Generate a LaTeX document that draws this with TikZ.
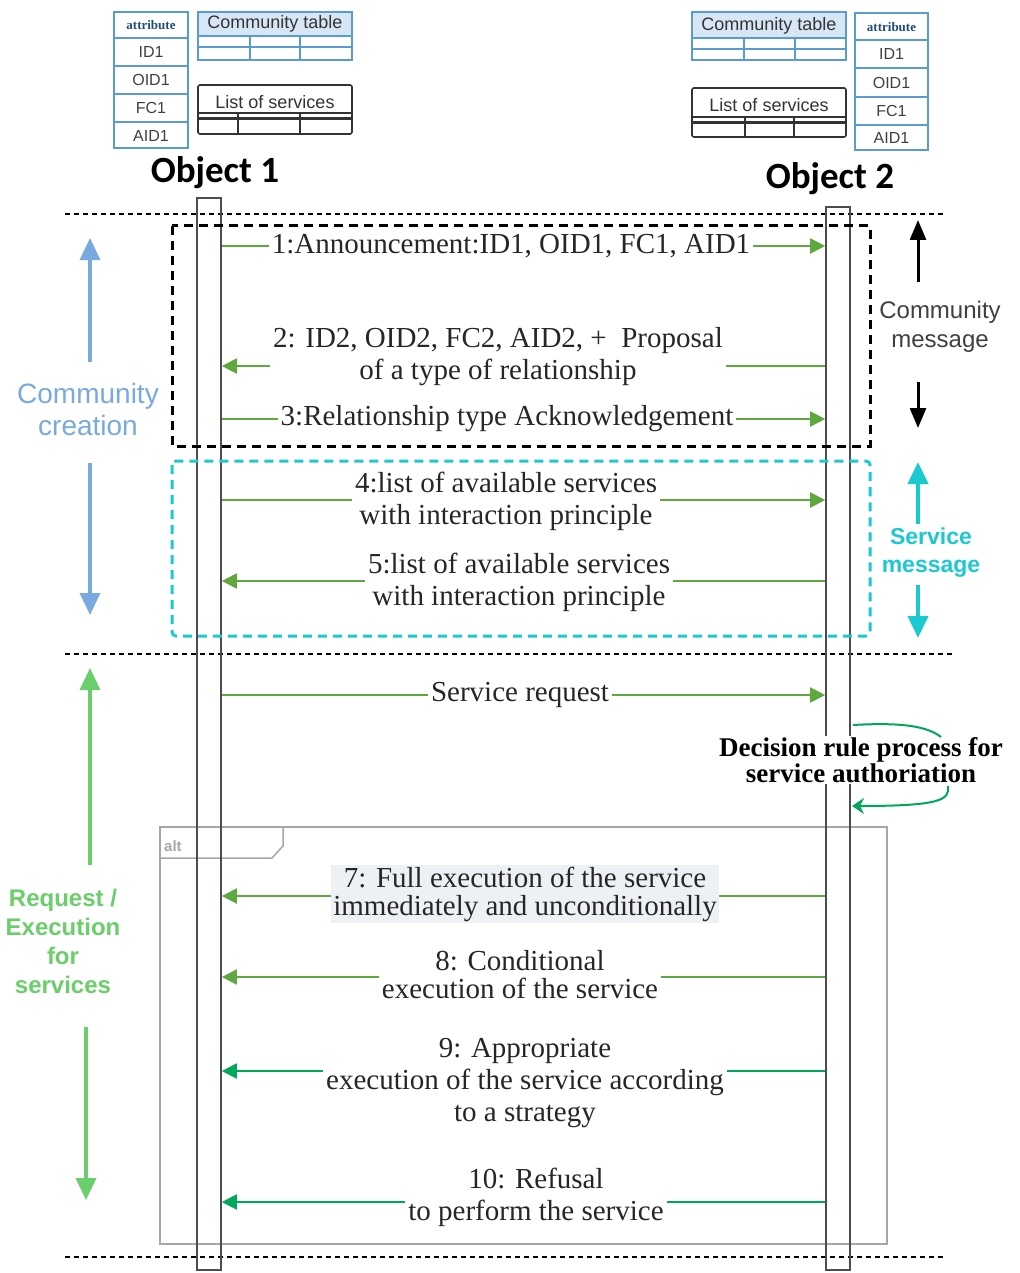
\documentclass[tikz,border=0pt]{standalone}
\usepackage{fontspec}
\setmainfont{Liberation Serif}
\setsansfont{Liberation Sans}
\newfontfamily\calib{Carlito}
\usetikzlibrary{arrows.meta,calc}
\pgfdeclarelayer{bg}
\pgfsetlayers{bg,main}
\definecolor{tblue}{HTML}{5B9BD5}
\definecolor{thead}{HTML}{D6E6F5}
\definecolor{msgg}{HTML}{5FA83F}
\definecolor{tealg}{HTML}{00A85A}
\definecolor{cyanb}{HTML}{1CC9D1}
\definecolor{lblue}{HTML}{78AADF}
\definecolor{lgreen}{HTML}{6ACF6A}
\definecolor{altgray}{HTML}{A6A6A6}
\definecolor{hdblue}{HTML}{1F4E79}
\definecolor{m7bg}{HTML}{EDF1F6}
\tikzset{
  tbl/.style={draw=tblue, line width=1.6pt},
  lst/.style={draw=black!80, line width=1.6pt},
  cell/.style={font=\sffamily\fontsize{16}{16}\selectfont, text=black!75, inner sep=0pt},
  attrh/.style={font=\bfseries\fontsize{13}{13}\selectfont, text=hdblue, inner sep=0pt},
  ttl/.style={font=\sffamily\fontsize{18}{18}\selectfont, text=black!80, inner sep=0pt},
  objlbl/.style={font=\calib\bfseries\fontsize{37}{37}\selectfont, inner sep=0pt},
  lifeline/.style={draw=black!70, line width=1.6pt, minimum width=24pt, inner sep=0pt},
  sepline/.style={draw=black, line width=1.4pt, dash pattern=on 5pt off 4pt},
  msgtxt/.style={font=\fontsize{29}{32}\selectfont, fill=white, inner sep=3pt, align=center, text=black!85},
  msg/.style={draw=msgg, line width=2pt, -{Triangle[width=15pt,length=15pt]}},
  msgt/.style={draw=tealg, line width=2pt, -{Triangle[width=15pt,length=15pt]}},
  side/.style={font=\sffamily\fontsize{28}{32}\selectfont, align=center, inner sep=0pt}
}
\begin{document}
\begin{tikzpicture}[x=1pt,y=-1pt]
\useasboundingbox (0,0) rectangle (1019,1273);
\begin{pgfonlayer}{bg}
\fill[white] (0,0) rectangle (1019,1273);
\end{pgfonlayer}

% ---------- left tables ----------
\draw[tbl] (114,12) rectangle (188,148);
\foreach \yy in {38,66,94,122} \draw[tbl, line width=1.3pt] (114,\yy) -- (188,\yy);
\node[attrh] (a1h) at (151,25) {attribute};
\node[cell] (a1id) at (151,52) {ID1};
\node[cell] (a1oid) at (151,80) {OID1};
\node[cell] (a1fc) at (151,108) {FC1};
\node[cell] (a1aid) at (151,136) {AID1};

\fill[thead] (198,12) rectangle (352,36);
\draw[tbl] (198,12) rectangle (352,60);
\draw[tbl] (198,36) -- (352,36);
\draw[tbl, line width=2.6pt] (198,47) -- (352,47);
\draw[tbl, line width=1.3pt] (250,36) -- (250,60) (300,36) -- (300,60);
\node[ttl] (ct1) at (275,24) {Community table};

\draw[lst, rounded corners=2pt] (198,85) rectangle (352,134);
\draw[lst] (198,113) -- (352,113);
\draw[lst, line width=3pt] (198,119) -- (352,119);
\draw[lst, line width=1.3pt] (238,113) -- (238,134) (300,113) -- (300,134);
\node[ttl] (ls1) at (275,102) {List of services};

% ---------- right tables ----------
\fill[thead] (692,12) rectangle (846,38);
\draw[tbl] (692,12) rectangle (846,60);
\draw[tbl] (692,38) -- (846,38);
\draw[tbl, line width=2.6pt] (692,49) -- (846,49);
\draw[tbl, line width=1.3pt] (744,38) -- (744,60) (795,38) -- (795,60);
\node[ttl] (ct2) at (769,26) {Community table};

\draw[lst, rounded corners=2pt] (692,88) rectangle (846,137);
\draw[lst] (692,117) -- (846,117);
\draw[lst, line width=3pt] (692,123) -- (846,123);
\draw[lst, line width=1.3pt] (745,117) -- (745,137) (794,117) -- (794,137);
\node[ttl] (ls2) at (769,105) {List of services};

\draw[tbl] (855,13) rectangle (928,150);
\foreach \yy in {40,68,97,125} \draw[tbl, line width=1.3pt] (855,\yy) -- (928,\yy);
\node[attrh] (a2h) at (891.5,27) {attribute};
\node[cell] (a2id) at (891.5,54) {ID1};
\node[cell] (a2oid) at (891.5,83) {OID1};
\node[cell] (a2fc) at (891.5,111) {FC1};
\node[cell] (a2aid) at (891.5,138) {AID1};

% ---------- objects ----------
\node[objlbl] (o1) at (215,173) {Object 1};
\node[objlbl] (o2) at (830,179) {Object 2};

% ---------- separators ----------
\coordinate (s1a) at (65,214); \coordinate (s1b) at (945,214);
\coordinate (s2a) at (65,654); \coordinate (s2b) at (955,654);
\coordinate (s3a) at (65,1257); \coordinate (s3b) at (945,1257);
\draw[sepline] (s1a) -- (s1b);
\draw[sepline] (s2a) -- (s2b);
\draw[sepline] (s3a) -- (s3b);

% ---------- alt frame ----------
\draw[altgray, line width=1.5pt] (160,827) rectangle (887,1244);
\draw[altgray, line width=1.5pt, fill=white] (160,827) -- (283,827) -- (283,846) -- (272,858) -- (160,858) -- cycle;
\node[font=\sffamily\bfseries\fontsize{15}{15}\selectfont, text=altgray, anchor=west, inner sep=0pt] (alt) at (164,846) {alt};

% ---------- lifelines ----------
\node[lifeline, minimum height=1072pt] (L1) at (209,734) {};
\node[lifeline, minimum height=1063pt] (L2) at (838,738.5) {};

% ---------- grouping boxes ----------
\draw[black, line width=3pt, dash pattern=on 9pt off 6pt] (172,226) rectangle (870,446);
\draw[cyanb, line width=3pt, dash pattern=on 9pt off 6pt, rounded corners=4pt] (172,461) rectangle (870,636);

% ---------- messages ----------
\node[msgtxt] (m1) at (511,246) {1:Announcement:ID1, OID1, FC1, AID1};
\node[msgtxt] (m2) at (498,357) {2: ID2, OID2, FC2, AID2, + \ Proposal\\of a type of relationship};
\node[msgtxt] (m3) at (507,419) {3:Relationship type Acknowledgement};
\node[msgtxt] (m4) at (506,501) {4:list of available services\\with interaction principle};
\node[msgtxt] (m5) at (519,582) {5:list of available services\\with interaction principle};
\node[msgtxt] (m6) at (520,695) {Service request};
\node[msgtxt, fill=m7bg, inner sep=2pt, font=\fontsize{29}{28}\selectfont] (m7) at (525,894) {7: Full execution of the service\\immediately and unconditionally};
\node[msgtxt, font=\fontsize{29}{28}\selectfont] (m8) at (520,975) {8: Conditional\\execution of the service};
\node[msgtxt] (m9) at (525,1083) {9: Appropriate\\execution of the service according\\to a strategy};
\node[msgtxt] (m10) at (536,1197) {10: Refusal\\to perform the service};

\begin{pgfonlayer}{bg}
\draw[msg] (L1.east |- 0,246) -- (L2.west |- 0,246);
\draw[msg] (L2.west |- 0,366) -- (L1.east |- 0,366);
\draw[msg] (L1.east |- 0,419) -- (L2.west |- 0,419);
\draw[msg] (L1.east |- 0,500) -- (L2.west |- 0,500);
\draw[msg] (L2.west |- 0,581) -- (L1.east |- 0,581);
\draw[msg] (L1.east |- 0,695) -- (L2.west |- 0,695);
\draw[msg] (L2.west |- 0,896) -- (L1.east |- 0,896);
\draw[msg] (L2.west |- 0,977) -- (L1.east |- 0,977);
\draw[msgt] (L2.west |- 0,1071) -- (L1.east |- 0,1071);
\draw[msgt] (L2.west |- 0,1202) -- (L1.east |- 0,1202);
\end{pgfonlayer}

% ---------- decision rule ----------
\node[font=\bfseries\fontsize{27}{26}\selectfont, align=center, fill=white, inner sep=1pt] (dec) at (861,760) {Decision rule process for\\service authoriation};
\coordinate (dS) at (853,725);
\coordinate (dA) at (941,737);
\coordinate (dB) at (948,786);
\coordinate (dE) at (852,806);
\draw[tealg, line width=2pt] (dS) .. controls (905,722) and (928,727) .. (dA);
\draw[tealg, line width=2pt, -{Stealth[width=16pt,length=12pt]}] (dB) .. controls (950,800) and (940,806) .. (dE);

% ---------- side labels ----------
\node[side, text=lblue] (cc) at (88,409) {Community\\creation};
\coordinate (ccU1) at (90,362); \coordinate (ccU2) at (90,238);
\coordinate (ccD1) at (90,463); \coordinate (ccD2) at (90,615);
\draw[lblue, line width=3.5pt, -{Triangle[width=20pt,length=22pt]}] (ccU1) -- (ccU2);
\draw[lblue, line width=3.5pt, -{Triangle[width=20pt,length=22pt]}] (ccD1) -- (ccD2);

\node[side, text=lgreen, font=\sffamily\bfseries\fontsize{24}{29}\selectfont] (rq) at (63,941) {Request /\\Execution\\for\\services};
\coordinate (rqU1) at (90,865); \coordinate (rqU2) at (90,668);
\coordinate (rqD1) at (86,1027); \coordinate (rqD2) at (86,1200);
\draw[lgreen, line width=3.5pt, -{Triangle[width=20pt,length=22pt]}] (rqU1) -- (rqU2);
\draw[lgreen, line width=3.5pt, -{Triangle[width=20pt,length=22pt]}] (rqD1) -- (rqD2);

\node[side, text=black!75, font=\sffamily\fontsize{24}{29}\selectfont] (cm) at (940,327) {Community\\message};
\coordinate (cmU1) at (918,282); \coordinate (cmU2) at (918,220);
\coordinate (cmD1) at (918,382); \coordinate (cmD2) at (918,428);
\draw[black, line width=3pt, -{Triangle[width=16pt,length=20pt]}] (cmU1) -- (cmU2);
\draw[black, line width=3pt, -{Triangle[width=16pt,length=20pt]}] (cmD1) -- (cmD2);

\node[side, text=cyanb, font=\sffamily\bfseries\fontsize{23}{28}\selectfont] (sm) at (931,553) {Service\\message};
\coordinate (smU1) at (918,524); \coordinate (smU2) at (918,462);
\coordinate (smD1) at (918,585); \coordinate (smD2) at (918,638);
\draw[cyanb, line width=4pt, -{Triangle[width=20pt,length=22pt]}] (smU1) -- (smU2);
\draw[cyanb, line width=4pt, -{Triangle[width=20pt,length=22pt]}] (smD1) -- (smD2);
\end{tikzpicture}
\end{document}
